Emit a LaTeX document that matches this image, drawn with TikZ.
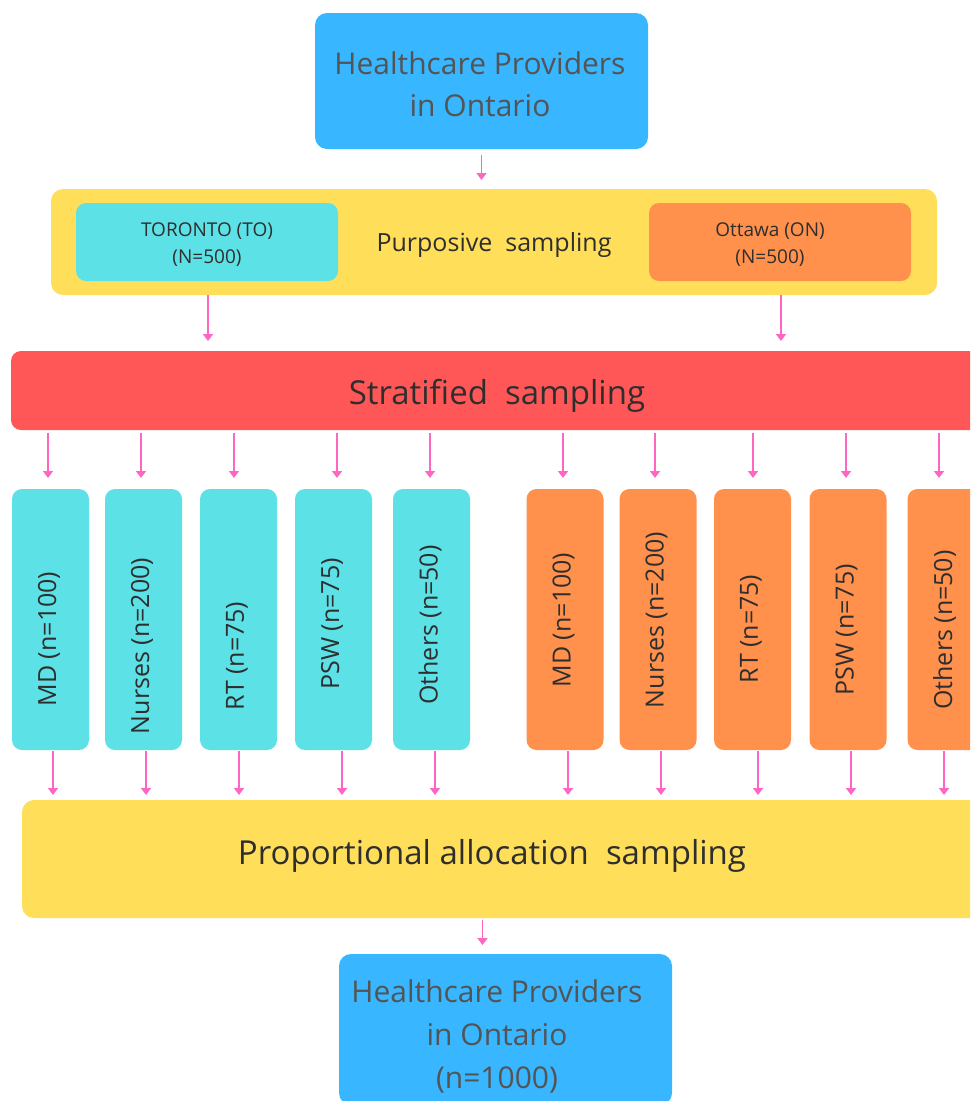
\documentclass[tikz,border=0pt]{standalone}
\usepackage{fontspec}
\setmainfont{Open Sans}
\usetikzlibrary{arrows.meta,calc}
\definecolor{blueB}{HTML}{38B6FF}
\definecolor{cyanB}{HTML}{5CE1E6}
\definecolor{orangeB}{HTML}{FF914D}
\definecolor{yellowB}{HTML}{FFDE59}
\definecolor{redB}{HTML}{FF5757}
\definecolor{pinkA}{HTML}{FF66C4}
\definecolor{txtG}{HTML}{545454}
\definecolor{txtD}{HTML}{2E2E2E}
\begin{document}
\begin{tikzpicture}[x=1pt,y=-1pt,
  box/.style={rounded corners=12pt, inner sep=0pt, outer sep=0pt},
  vbox/.style={box, rounded corners=10pt, minimum width=77pt, minimum height=261pt},
  vtxt/.style={inner sep=0pt, text=txtD, font=\fontsize{25}{30}\selectfont},
  arr/.style={draw=pinkA, line width=1.8pt, -{Triangle[width=10pt,length=7pt]}}]
\useasboundingbox (0,0) rectangle (970,1101);
\clip (0,0) rectangle (970,1101);

% top
\node[box, fill=blueB, minimum width=333pt, minimum height=136pt] (top) at (481.5,81) {};
\node[inner sep=0pt, text=txtG, align=center, font=\fontsize{30}{42}\selectfont] (topT) at (480,84)
  {Healthcare Providers\\in Ontario};

% purposive
\node[box, fill=yellowB, minimum width=886pt, minimum height=106pt] (purp) at (494,242) {};
\node[inner sep=0pt, text=txtD, font=\fontsize{25}{30}\selectfont] (purpT) at (494,245) {Purposive\ \ sampling};
\node[box, rounded corners=10pt, fill=cyanB, minimum width=262pt, minimum height=78pt] (tor) at (207,242) {};
\node[inner sep=0pt, text=txtD, align=center, font=\fontsize{19}{27}\selectfont] (torT) at (207,245) {TORONTO (TO)\\(N=500)};
\node[box, rounded corners=10pt, fill=orangeB, minimum width=262pt, minimum height=78pt] (ott) at (780,242) {};
\node[inner sep=0pt, text=txtD, align=center, font=\fontsize{19}{27}\selectfont] (ottT) at (770,245) {Ottawa (ON)\\(N=500)};

\draw[arr, shorten <=6pt, shorten >=9pt] (top.south) -- (top.south |- purp.north);

% stratified
\node[box, rounded corners=10pt, fill=redB, minimum width=972pt, minimum height=79pt] (strat) at (497,390.5) {};
\node[inner sep=0pt, text=txtD, font=\fontsize{33}{40}\selectfont] (stratT) at (497,396) {Stratified\ \ sampling};

\draw[arr, shorten >=10pt] ([xshift=1pt]tor.south |- purp.south) -- ([xshift=1pt]tor.south |- strat.north);
\draw[arr, shorten >=10pt] ([xshift=1pt]ott.south |- purp.south) -- ([xshift=1pt]ott.south |- strat.north);

% proportional
\node[box, fill=yellowB, minimum width=968pt, minimum height=118pt] (prop) at (506,859) {};
\node[inner sep=0pt, text=txtD, font=\fontsize{33}{40}\selectfont] (propT) at (492,856) {Proportional allocation\ \ sampling};

% vertical boxes
\foreach \n/\cx/\ty/\lab/\col/\da/\db in {
  m1/50.5/639/MD (n=100)/cyanB/-2.5/2.5,
  n1/143.5/646/Nurses (n=200)/cyanB/-2.5/2.5,
  r1/238.5/656/RT (n=75)/cyanB/-4.5/0.5,
  p1/333.5/624/PSW (n=75)/cyanB/3.5/8.5,
  o1/431.5/625/Others (n=50)/cyanB/-1.5/3.5,
  m2/565/620/MD (n=100)/orangeB/-2/3,
  n2/658/620/Nurses (n=200)/orangeB/-3/3,
  r2/752.5/629/RT (n=75)/orangeB/0.5/5.5,
  p2/848/630/PSW (n=75)/orangeB/-2/3,
  o2/946/630/Others (n=50)/orangeB/-7/-2}{
  \node[vbox, fill=\col] (\n) at (\cx,619.5) {};
  \node[vtxt, rotate=90] (\n-t) at (\cx-1.5,\ty) {\lab};
  \draw[arr, shorten <=3pt, shorten >=11pt] ([xshift=\da pt]\n.north |- strat.south) -- ([xshift=\da pt]\n.north);
  \draw[arr, shorten <=1pt, shorten >=5pt] ([xshift=\db pt]\n.south) -- ([xshift=\db pt]\n.south |- prop.north);
}

% bottom
\node[box, fill=blueB, minimum width=333pt, minimum height=151pt] (bot) at (505.5,1029.5) {};
\node[inner sep=0pt, text=txtG, align=center, font=\fontsize{30}{43}\selectfont] (botT) at (497,1036)
  {Healthcare Providers\\in Ontario\\(n=1000)};
\draw[arr, shorten <=2pt, shorten >=9pt] ([xshift=-23pt]bot.north |- prop.south) -- ([xshift=-23pt]bot.north);
\end{tikzpicture}
\end{document}
